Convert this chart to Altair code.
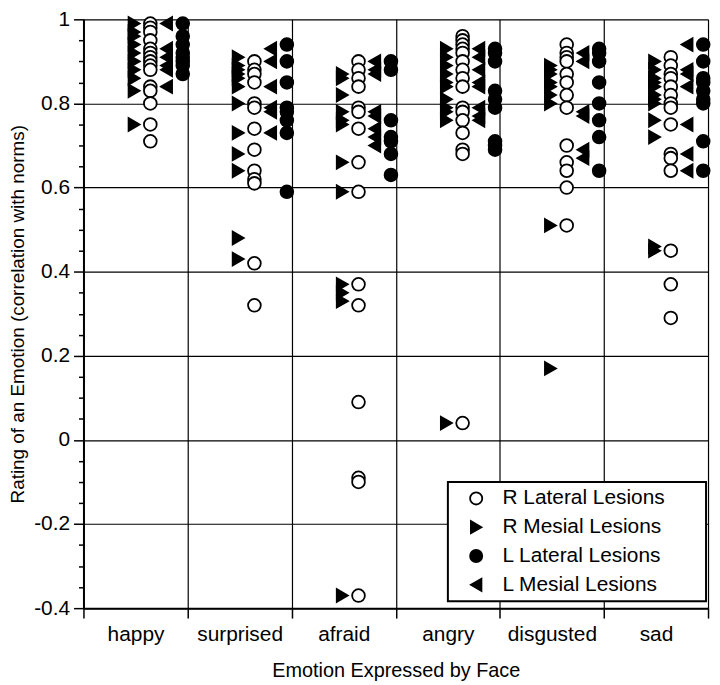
import altair as alt
import pandas as pd

emotions = ["happy", "surprised", "afraid", "angry", "disgusted", "sad"]
PAD = "\u00a0" * 6 + "\u200b"
legend_order = ["R Lateral Lesions", "R Mesial Lesions", "L Lateral Lesions", "L Mesial Lesions"]
position_order = ["R Mesial Lesions", "R Lateral Lesions", "L Mesial Lesions", "L Lateral Lesions"]

r_lateral = {
    "happy": [0.99, 0.98, 0.97, 0.95, 0.93, 0.92, 0.91, 0.90, 0.89, 0.88, 0.84, 0.83, 0.80, 0.75, 0.71],
    "surprised": [0.90, 0.88, 0.87, 0.85, 0.80, 0.79, 0.74, 0.69, 0.64, 0.62, 0.61, 0.42, 0.32],
    "afraid": [0.90, 0.88, 0.86, 0.84, 0.79, 0.78, 0.74, 0.66, 0.59, 0.37, 0.32, 0.09, -0.09, -0.10, -0.37],
    "angry": [0.96, 0.95, 0.94, 0.93, 0.92, 0.90, 0.88, 0.86, 0.84, 0.79, 0.78, 0.76, 0.73, 0.69, 0.68, 0.04],
    "disgusted": [0.94, 0.92, 0.91, 0.90, 0.87, 0.85, 0.82, 0.79, 0.70, 0.66, 0.64, 0.60, 0.51],
    "sad": [0.91, 0.89, 0.87, 0.86, 0.84, 0.82, 0.80, 0.79, 0.75, 0.68, 0.67, 0.64, 0.45, 0.37, 0.29],
}
r_mesial = {
    "happy": [0.99, 0.97, 0.96, 0.94, 0.92, 0.90, 0.88, 0.86, 0.83, 0.75],
    "surprised": [0.91, 0.89, 0.88, 0.87, 0.86, 0.84, 0.80, 0.73, 0.68, 0.64, 0.48, 0.43],
    "afraid": [0.87, 0.86, 0.82, 0.78, 0.76, 0.75, 0.66, 0.59, 0.37, 0.35, 0.33, -0.37],
    "angry": [0.93, 0.91, 0.89, 0.87, 0.85, 0.84, 0.81, 0.79, 0.78, 0.76, 0.04],
    "disgusted": [0.89, 0.88, 0.87, 0.85, 0.84, 0.82, 0.80, 0.51, 0.17],
    "sad": [0.90, 0.88, 0.86, 0.85, 0.84, 0.82, 0.81, 0.80, 0.76, 0.72, 0.46, 0.45],
}
l_lateral = {
    "happy": [0.99, 0.96, 0.94, 0.92, 0.91, 0.90, 0.89, 0.87],
    "surprised": [0.94, 0.90, 0.85, 0.79, 0.78, 0.76, 0.73, 0.59],
    "afraid": [0.90, 0.88, 0.76, 0.72, 0.71, 0.68, 0.63],
    "angry": [0.93, 0.92, 0.90, 0.83, 0.81, 0.79, 0.71, 0.70, 0.69],
    "disgusted": [0.93, 0.92, 0.90, 0.85, 0.80, 0.76, 0.72, 0.64],
    "sad": [0.94, 0.90, 0.86, 0.85, 0.83, 0.81, 0.80, 0.71, 0.64],
}
l_mesial = {
    "happy": [0.99, 0.93, 0.91, 0.89, 0.88, 0.84],
    "surprised": [0.93, 0.90, 0.84, 0.79, 0.78, 0.73],
    "afraid": [0.90, 0.88, 0.87, 0.78, 0.77, 0.74, 0.72, 0.70],
    "angry": [0.93, 0.91, 0.88, 0.85, 0.84, 0.79, 0.77, 0.76],
    "disgusted": [0.92, 0.90, 0.78, 0.77, 0.69, 0.67],
    "sad": [0.94, 0.88, 0.87, 0.84, 0.75, 0.68, 0.64],
}

rows = []
for name, series in [("R Mesial Lesions", r_mesial), ("R Lateral Lesions", r_lateral),
                     ("L Mesial Lesions", l_mesial), ("L Lateral Lesions", l_lateral)]:
    for emo in emotions:
        for v in series[emo]:
            rows.append({"emotion": emo, "group": name + PAD, "rating": v})
df = pd.DataFrame(rows)

legend_domain = [s + PAD for s in legend_order]
position_domain = [s + PAD for s in position_order]

y_tick_values = [round(-0.4 + 0.05 * i, 2) for i in range(29)]
major_test = "abs(round(datum.value*100)) % 20 == 0"

FONT = "Liberation Sans"

legend = alt.Legend(
    title=None, orient="none", legendX=367, legendY=466, direction="vertical",
    fillColor="white", strokeColor="black", padding=6, rowPadding=7,
    symbolOffset=12, labelFont=FONT, labelFontSize=21, labelLimit=400,
    labelOffset=16, symbolStrokeColor="black", symbolStrokeWidth=1.8,
    symbolSize=150, labelColor="black",
)

chart = alt.Chart(df).mark_point(filled=True, size=165, strokeWidth=1.8, opacity=1).encode(
    x=alt.X("emotion:N", sort=emotions,
            scale=alt.Scale(domain=emotions, paddingInner=0, paddingOuter=0),
            axis=alt.Axis(title="Emotion Expressed by Face", labelAngle=0, tickBand="extent",
                          tickSize=10, labelPadding=6, titlePadding=16,
                          labelFont=FONT, labelFontSize=21, titleFont=FONT, titleFontSize=20,
                          titleFontWeight="normal", labelColor="black", titleColor="black",
                          domainColor="black", domainWidth=2, tickColor="black", tickWidth=1.5,
                          grid=True, gridColor="black", gridWidth=1.2, gridOpacity=1)),
    xOffset=alt.XOffset("group:N", scale=alt.Scale(domain=position_domain, type="point",
                                                   range=[51, 100], padding=0)),
    y=alt.Y("rating:Q", scale=alt.Scale(domain=[-0.4, 1], nice=False, zero=False),
            axis=alt.Axis(title="Rating of an Emotion (correlation with norms)",
                          values=y_tick_values,
                          labelExpr=f"({major_test}) ? '' + datum.value : ''",
                          tickSize={"condition": {"test": major_test, "value": 10}, "value": 5},
                          gridOpacity={"condition": {"test": major_test, "value": 1}, "value": 0},
                          gridColor="black", gridWidth=1.2,
                          labelPadding=4, titlePadding=6,
                          labelFont=FONT, labelFontSize=21, titleFont=FONT, titleFontSize=19,
                          titleFontWeight="normal", labelColor="black", titleColor="black",
                          domainColor="black", domainWidth=2, tickColor="black", tickWidth=1.5)),
    shape=alt.Shape("group:N", scale=alt.Scale(domain=legend_domain,
                                               range=["circle", "triangle-right", "circle", "triangle-left"]),
                    legend=legend),
    fill=alt.Fill("group:N", scale=alt.Scale(domain=legend_domain,
                                             range=["white", "black", "black", "black"]),
                  legend=legend),
    stroke=alt.Stroke("group:N", scale=alt.Scale(domain=legend_domain,
                                                 range=["black", "black", "black", "black"]),
                      legend=legend),
).properties(
    width=629, height=593,
    autosize=alt.AutoSizeParams(type="none"),
    padding={"left": 76, "top": 9, "right": 4, "bottom": 78},
).configure_view(stroke=None).configure_legend(strokeWidth=2)

chart.save("out.html", embed_options={"renderer": "svg", "actions": False})
